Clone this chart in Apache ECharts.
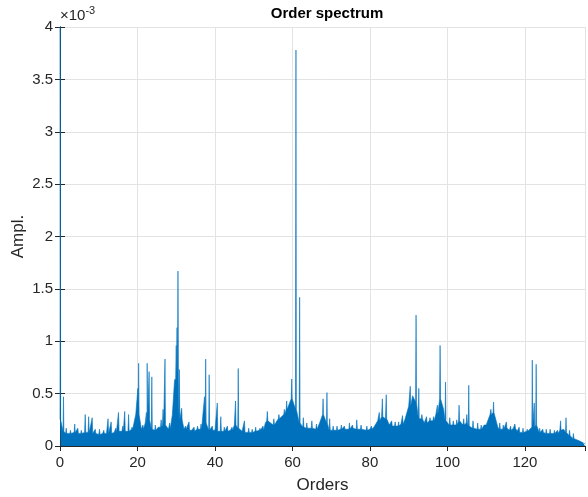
<!DOCTYPE html>
<html>
<head>
<meta charset="utf-8">
<script src="https://cdn.jsdelivr.net/npm/echarts@6/dist/echarts.min.js"></script>
<style>
html, body { margin: 0; padding: 0; background: #fff; }
#chart { width: 588px; height: 497px; }
</style>
</head>
<body>
<div id="chart"></div>
<script>
// amplitudes in units of 1e-3

// floor level of the spectrum, one value per order 0..135, then 135.5
var floorOrders = [];
for (var k = 0; k <= 135; k++) floorOrders.push(k);
floorOrders.push(135.5);
var floorValues = [
	0.25, 0.14, 0.12, 0.12, 0.13, 0.12, 0.12, 0.13, 0.12, 0.12,
	0.11, 0.12, 0.12, 0.12, 0.13, 0.14, 0.14, 0.14, 0.14, 0.16,
	0.30, 0.16, 0.22, 0.25, 0.16, 0.15, 0.18, 0.20, 0.16, 0.30,
	0.62, 0.25, 0.16, 0.15, 0.15, 0.14, 0.16, 0.35, 0.22, 0.15,
	0.15, 0.14, 0.14, 0.14, 0.15, 0.20, 0.17, 0.14, 0.13, 0.13,
	0.13, 0.14, 0.15, 0.22, 0.24, 0.20, 0.24, 0.26, 0.30, 0.35,
	0.45, 0.35, 0.22, 0.18, 0.17, 0.17, 0.16, 0.22, 0.30, 0.22,
	0.15, 0.15, 0.15, 0.16, 0.16, 0.16, 0.17, 0.16, 0.16, 0.15,
	0.16, 0.18, 0.24, 0.28, 0.26, 0.20, 0.19, 0.19, 0.21, 0.25,
	0.38, 0.48, 0.42, 0.26, 0.22, 0.22, 0.24, 0.30, 0.45, 0.35,
	0.24, 0.20, 0.20, 0.24, 0.20, 0.22, 0.19, 0.17, 0.16, 0.16,
	0.20, 0.30, 0.32, 0.18, 0.16, 0.17, 0.15, 0.17, 0.14, 0.13,
	0.13, 0.14, 0.18, 0.20, 0.13, 0.13, 0.12, 0.12, 0.12, 0.15,
	0.16, 0.13, 0.10, 0.07, 0.05, 0.03, 0.02
];

// narrow spectral lines: order and amplitude
var peakOrders = [
	0.05, 0.9, 20.1, 20.3, 22.5, 23.0, 23.7, 27.1, 30.0, 30.2,
	30.45, 30.8, 31.4, 37.3, 37.6, 38.5, 40.6, 45.3, 46.0, 58.5,
	59.8, 60.9, 61.85, 67.9, 68.9, 83.2, 84.2, 90.4, 91.9, 92.6,
	97.4, 98.1, 99.5, 103.0, 105.5, 111.9, 121.9, 122.4, 122.9, 129.2,
	130.6
];
var peakValues = [
	4.0, 0.47, 0.55, 0.79, 0.79, 0.71, 0.66, 0.83, 0.96, 1.13,
	1.67, 0.73, 0.36, 0.47, 0.83, 0.68, 0.41, 0.43, 0.74, 0.43,
	0.64, 3.78, 1.42, 0.45, 0.51, 0.45, 0.49, 0.57, 1.25, 0.55,
	0.39, 0.96, 0.61, 0.39, 0.58, 0.42, 0.82, 0.41, 0.78, 0.24,
	0.27
];

// small spikes riding on the floor
var minorOrders = [
	1.6, 2.7, 3.8, 4.6, 5.5, 6.5, 7.4, 8.3, 9.1, 10.2,
	11.3, 12.4, 13.2, 14.4, 15.1, 16.2, 16.7, 17.7, 18.6, 19.7,
	21.4, 22.3, 24.6, 25.5, 26.1, 26.6, 28.3, 29.7, 32.4, 33.3,
	34.6, 35.5, 36.4, 39.3, 41.5, 42.4, 43.2, 44.4, 47.6, 48.7,
	49.6, 50.5, 51.6, 52.4, 53.5, 55.2, 56.5, 57.9, 62.8, 63.7,
	65.0, 66.2, 69.6, 70.5, 71.5, 72.6, 73.4, 74.7, 75.5, 76.6,
	77.7, 79.2, 80.4, 82.4, 85.6, 86.5, 87.4, 88.4, 93.4, 94.6,
	95.5, 96.4, 100.6, 101.5, 102.4, 104.2, 105.0, 106.6, 107.8, 108.7,
	109.6, 111.2, 113.5, 114.4, 115.2, 116.3, 117.4, 118.5, 119.5, 120.6,
	123.8, 124.6, 125.5, 126.5, 127.6, 128.4, 131.5, 132.5
];
var minorValues = [
	0.17, 0.15, 0.21, 0.17, 0.15, 0.30, 0.28, 0.27, 0.16, 0.16,
	0.15, 0.26, 0.23, 0.17, 0.32, 0.19, 0.33, 0.30, 0.18, 0.30,
	0.20, 0.32, 0.20, 0.19, 0.25, 0.35, 0.22, 0.64, 0.19, 0.23,
	0.18, 0.19, 0.21, 0.19, 0.28, 0.18, 0.19, 0.18, 0.24, 0.17,
	0.16, 0.18, 0.17, 0.19, 0.33, 0.26, 0.30, 0.35, 0.27, 0.22,
	0.24, 0.21, 0.26, 0.19, 0.19, 0.20, 0.19, 0.22, 0.20, 0.25,
	0.20, 0.19, 0.19, 0.32, 0.24, 0.23, 0.23, 0.29, 0.30, 0.28,
	0.27, 0.28, 0.27, 0.24, 0.25, 0.26, 0.30, 0.24, 0.22, 0.20,
	0.20, 0.35, 0.22, 0.20, 0.23, 0.19, 0.21, 0.18, 0.17, 0.16,
	0.17, 0.16, 0.16, 0.16, 0.15, 0.15, 0.15, 0.12
];

function floorAt(x) {
	var i = Math.min(Math.round(x), floorValues.length - 1);
	return floorValues[i];
}

var points = [];
floorOrders.forEach(function (x, i) {
	points.push([x, floorValues[i]]);
});
function addSpikes(xs, vs, half) {
	xs.forEach(function (x, i) {
		var b = floorAt(x);
		points.push([Math.max(0, x - half), b]);
		points.push([x, vs[i]]);
		points.push([x + half, b]);
	});
}
addSpikes(peakOrders, peakValues, 0.12);
addSpikes(minorOrders, minorValues, 0.15);
points.sort(function (a, b) { return a[0] - b[0]; });

var axisColor = '#262626';
var gridColor = '#e3e3e3';
var font = 'Liberation Sans, Arial, Helvetica, sans-serif';

var myChart = echarts.init(document.getElementById('chart'));
var option = {
	animation: false,
	backgroundColor: '#fff',
	grid: { left: 60, right: 3, top: 27, bottom: 51, outerBoundsMode: 'none', containLabel: false },
	title: {
		text: 'Order spectrum',
		left: 322, top: 1,
		textAlign: 'center',
		textStyle: { fontFamily: font, fontSize: 15, fontWeight: 'bold', color: '#000' }
	},
	graphic: [{
		type: 'text',
		left: 60, top: 5,
		style: {
			text: '{a|\u00d710}{b|-3}',
			rich: {
				a: { fontFamily: font, fontSize: 15, fill: axisColor, verticalAlign: 'bottom', lineHeight: 18 },
				b: { fontFamily: font, fontSize: 11, fill: axisColor, verticalAlign: 'top', lineHeight: 18, padding: [0, 0, 8, 0] }
			}
		}
	}],
	xAxis: [{
		type: 'value',
		min: 0, max: 135.5, interval: 20,
		name: 'Orders',
		nameLocation: 'middle',
		nameGap: 31,
		nameMoveOverlap: false,
		nameTextStyle: { fontFamily: font, fontSize: 17, color: axisColor },
		axisLine: { lineStyle: { color: axisColor, width: 1 } },
		axisTick: { inside: true, length: 5, lineStyle: { color: axisColor } },
		axisLabel: { fontFamily: font, fontSize: 15, color: axisColor, margin: 9, showMaxLabel: false },
		splitLine: { show: true, lineStyle: { color: gridColor, width: 1 } }
	}, {
		type: 'value', position: 'top',
		min: 0, max: 135.5, interval: 20,
		axisLine: { show: true, lineStyle: { color: axisColor, width: 1 } },
		axisTick: { show: true, inside: true, length: 5, lineStyle: { color: axisColor } },
		axisLabel: { show: false },
		splitLine: { show: false }
	}],
	yAxis: [{
		type: 'value',
		min: 0, max: 4, interval: 0.5,
		name: 'Ampl.',
		nameLocation: 'middle',
		nameGap: 33,
		nameMoveOverlap: false,
		nameTextStyle: { fontFamily: font, fontSize: 17, color: axisColor },
		axisLine: { show: true, lineStyle: { color: axisColor, width: 1 } },
		axisTick: { show: true, inside: true, length: 5, lineStyle: { color: axisColor } },
		axisLabel: { fontFamily: font, fontSize: 15, color: axisColor, margin: 7 },
		splitLine: { show: true, lineStyle: { color: gridColor, width: 1 } }
	}, {
		type: 'value', position: 'right',
		min: 0, max: 4, interval: 0.5,
		axisLine: { show: true, lineStyle: { color: axisColor, width: 1 } },
		axisTick: { show: true, inside: true, length: 5, lineStyle: { color: axisColor } },
		axisLabel: { show: false },
		splitLine: { show: false }
	}],
	series: [{
		type: 'line',
		data: points,
		showSymbol: false,
		sampling: null,
		lineStyle: { color: '#0072BD', width: 0.6, join: 'bevel' },
		areaStyle: { color: '#0072BD', opacity: 1 },
		itemStyle: { color: '#0072BD' },
		z: 3
	}]
};
myChart.setOption(option);
</script>
</body>
</html>
